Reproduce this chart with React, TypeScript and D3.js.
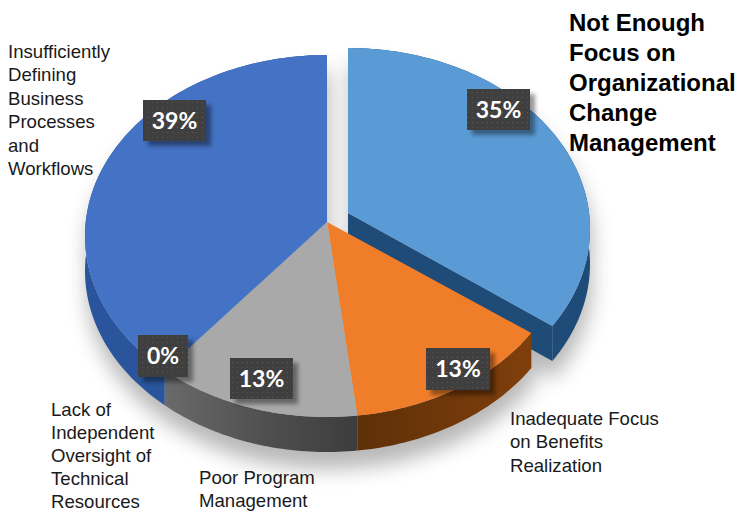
import React from "react";
import * as d3 from "d3";

const categories = [
  "Not Enough Focus on Organizational Change Management",
  "Inadequate Focus on Benefits Realization",
  "Poor Program Management",
  "Lack of Independent Oversight of Technical Resources",
  "Insufficiently Defining Business Processes and Workflows",
];
// Slice sizes as they are drawn in the picture
const sliceShares = [34, 14, 13.7, 0, 38.3];
const valueLabels = ["35%", "13%", "13%", "0%", "39%"];
const topColors = ["#5b9bd5", "#f07d2a", "#a9a9a9", "#a5a5a5", "#4472c4"];
const wallColors = ["#1f4b78", "url(#wallOrange)", "url(#wallGrey)", "#555", "#2a559c"];

const catLines = [
  ["Inadequate Focus", "on Benefits", "Realization"],
  ["Poor Program", "Management"],
  ["Lack of", "Independent", "Oversight of", "Technical", "Resources"],
  ["Insufficiently", "Defining", "Business", "Processes", "and", "Workflows"],
];
const catPos: [number, number][] = [[510, 425], [199, 484], [51, 416], [8, 58]];
const catLeading = [23.4, 23.4, 23, 23.4];
const titleLines = ["Not Enough", "Focus on", "Organizational", "Change", "Management"];
const boxes = [
  [467, 89, 63, 41],
  [426, 348, 64, 42],
  [230, 358, 63, 41],
  [138, 335, 50, 42],
  [143, 100, 63, 41],
];

const RX = 242, RY = 181, DEPTH = 35;
const main = { ax: 327, ay: 222, cx: 327, cy: 236 };
const expl = { ax: 348, ay: 213, cx: 348, cy: 229 };

const slices = d3.pie<number>().sort(null).value((d) => d)(sliceShares);
const unit = d3.scaleLinear().domain([-1, 1]).range([-1, 1]);
const line = d3.line<[number, number]>();

function rim(g: typeof main, a0: number, a1: number, dy = 0): [number, number][] {
  const x = unit.copy().range([g.cx - RX, g.cx + RX]);
  const y = unit.copy().range([g.cy - RY, g.cy + RY]);
  const n = Math.max(2, Math.ceil((a1 - a0) / 0.02));
  return d3.range(n + 1).map((i) => {
    const t = a0 + ((a1 - a0) * i) / n;
    return [x(Math.sin(t)), y(-Math.cos(t)) + dy] as [number, number];
  });
}
const topPath = (g: typeof main, a0: number, a1: number) =>
  (line([[g.ax, g.ay], ...rim(g, a0, a1)]) as string) + "Z";
const bandPath = (g: typeof main, a0: number, a1: number) =>
  (line([...rim(g, a0, a1), ...rim(g, a0, a1, DEPTH).reverse()]) as string) + "Z";
const radialPath = (g: typeof main, a: number) => {
  const [p] = rim(g, a, a + 0.001);
  return (line([[g.ax, g.ay], p, [p[0], p[1] + DEPTH], [g.ax, g.ay + DEPTH]]) as string) + "Z";
};

export default function App() {
  const e = slices[0];
  const rest = slices.slice(1).filter((s) => s.endAngle > s.startAngle);
  const silhouette = [
    topPath(expl, e.startAngle, e.endAngle),
    bandPath(expl, e.startAngle, e.endAngle),
    radialPath(expl, e.endAngle),
    ...rest.flatMap((s) => [topPath(main, s.startAngle, s.endAngle), bandPath(main, s.startAngle, s.endAngle)]),
  ];
  return (
    <svg width={738} height={512} style={{ position: "absolute", left: 0, top: 0, background: "#fff" }}>
      <defs>
        <filter id="soft" x="-20%" y="-20%" width="140%" height="140%">
          <feGaussianBlur stdDeviation="10" />
        </filter>
        <filter id="boxShadow" x="-30%" y="-30%" width="160%" height="160%">
          <feGaussianBlur stdDeviation="2" />
        </filter>
        <linearGradient id="wallGrey" gradientUnits="userSpaceOnUse" x1="165" x2="360" y1="0" y2="0">
          <stop offset="0" stopColor="#6a6a6a" />
          <stop offset="0.5" stopColor="#505050" />
          <stop offset="1" stopColor="#3c3c3c" />
        </linearGradient>
        <linearGradient id="wallOrange" gradientUnits="userSpaceOnUse" x1="358" x2="530" y1="0" y2="0">
          <stop offset="0" stopColor="#5f3008" />
          <stop offset="1" stopColor="#7f3f0b" />
        </linearGradient>
        <pattern id="dots" width="5" height="5" patternUnits="userSpaceOnUse">
          <rect width="5" height="5" fill="#3f3f3f" />
          <rect x="2" y="2" width="1" height="1" fill="#5a5a5a" />
        </pattern>
      </defs>

      <g filter="url(#soft)" opacity={0.42} transform="translate(2,17)">
        {silhouette.map((d, i) => (
          <path key={i} d={d} fill="#555" />
        ))}
      </g>

      <g>
        <path d={bandPath(expl, e.startAngle, e.endAngle)} fill={wallColors[0]} />
        <path d={radialPath(expl, e.startAngle)} fill={wallColors[0]} />
        <path d={radialPath(expl, e.endAngle)} fill={wallColors[0]} />
        <path d={topPath(expl, e.startAngle, e.endAngle)} fill={topColors[0]} />
      </g>

      {slices.slice(1).map((s, i) =>
        s.endAngle > s.startAngle ? (
          <path key={i} d={bandPath(main, s.startAngle, s.endAngle)} fill={wallColors[i + 1]} />
        ) : null
      )}
      {slices.slice(1).map((s, i) =>
        s.endAngle > s.startAngle ? (
          <path key={i} d={topPath(main, s.startAngle, s.endAngle)} fill={topColors[i + 1]} />
        ) : null
      )}

      {boxes.map(([x, y, w, h], i) => (
        <g key={i}>
          <rect x={x + 5} y={y + 5} width={w} height={h} fill="#000" opacity={0.4} filter="url(#boxShadow)" />
          <rect x={x} y={y} width={w} height={h} fill="url(#dots)" />
          <text
            x={x + w / 2}
            y={y + h / 2 + 8}
            textAnchor="middle"
            fontFamily="Lato"
            fontWeight={700}
            fontSize={23}
            fill="#fff"
          >
            {valueLabels[i]}
          </text>
        </g>
      ))}

      <g fontFamily="Liberation Sans" fontSize={18.6} fill="#1a1a1a" aria-label={categories.slice(1).join("; ")}>
        {catLines.map((lines, i) => (
          <text key={i} x={catPos[i][0]} y={catPos[i][1]}>
            {lines.map((l, j) => (
              <tspan key={j} x={catPos[i][0]} dy={j === 0 ? 0 : catLeading[i]}>
                {l}
              </tspan>
            ))}
          </text>
        ))}
      </g>
      <text x={569} y={31} fontFamily="Liberation Sans" fontWeight={700} fontSize={24} fill="#000">
        {titleLines.map((l, j) => (
          <tspan key={j} x={569} dy={j === 0 ? 0 : 30}>
            {l}
          </tspan>
        ))}
      </text>
    </svg>
  );
}
